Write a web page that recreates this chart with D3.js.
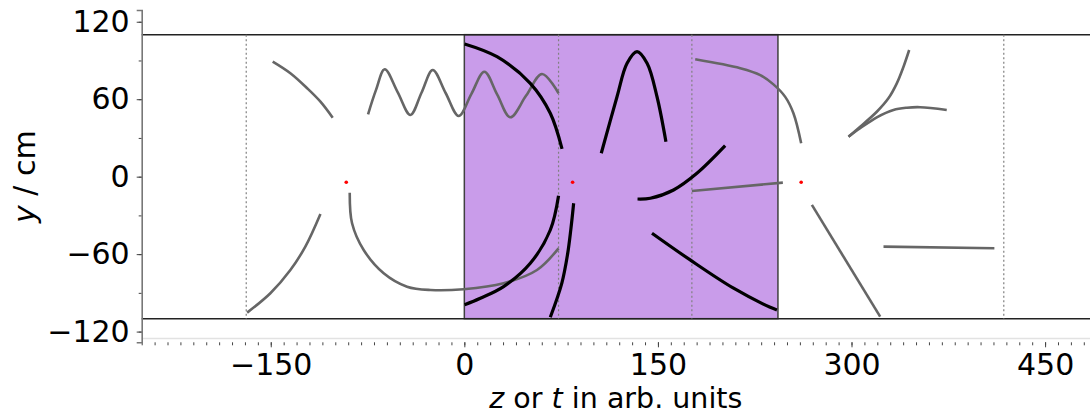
<!DOCTYPE html>
<html>
<head>
<meta charset="utf-8">
<script src="https://cdn.jsdelivr.net/npm/d3@7"></script>
<style>
  html, body { margin: 0; padding: 0; background: #fff; }
  svg { display: block; font-family: "DejaVu Sans", sans-serif; }
</style>
</head>
<body>
<svg id="chart" width="1090" height="415"></svg>
<script>
// Tick labels
const xMajorTicks = [-150, 0, 150, 300, 450];
const yMajorTicks = [-120, -60, 0, 60, 120];

// Detector band (z range) and guide lines
const bandZ = [0, 243];
const bandY = [-110, 110];
const wallY = [-110, 110];
const guideZ = [-169, 73, 176.3, 418];

// Interaction points
const foci = [[-91.5, -4.3], [83.9, -4.3], [261, -4.3]];

// Grey tracks, [z, y]
const grayTracks = [
  [[-148.5, 89.1], [-134.8, 80.1], [-121.8, 68.5], [-111.5, 58.1], [-102, 45.7]],
  [[-168.3, -105.3], [-150.3, -90.3], [-134.8, -72.3], [-123.2, -54.2], [-111.5, -28.9]],
  [[-74.6, 48.3], [-68.5, 67], [-61.7, 83.2], [-51.7, 65.5], [-41.8, 47.8], [-33.1, 65.2],
   [-24.5, 82.6], [-14.5, 64.8], [-4.4, 47.0], [5.5, 64.2], [15.5, 81.3], [25.5, 63.6],
   [35.6, 46.0], [47.9, 62.8], [60.2, 79.5], [73.0, 64.6]],
  [[-88.8, -12.4], [-87, -36.1], [-78, -56.8], [-62.5, -74.8], [-44.4, -85.2], [-26.3, -87.8],
   [-0.5, -87.2], [30.4, -82.6], [56.3, -72.3], [73, -55.5]],
  [[178.9, 90.9], [213.8, 84], [229.3, 78.7], [239.5, 71.5], [248.5, 62], [255, 49.1], [261, 25.9]],
  [[176.3, -11.1], [246.8, -4.6]],
  [[269.3, -21.9], [322.2, -108.4]],
  [[324.8, -54.2], [410.7, -55.5]],
  [[297.7, 31], [306.7, 38.7], [319.6, 50.3], [328.6, 60.7], [335.1, 72.3], [340.3, 85.2], [344.7, 98.1]],
  [[297.7, 31], [306.7, 37.5], [319.6, 46], [332.5, 51.7], [342.9, 53.4], [353.2, 53.8], [373.8, 51.7]]
];

// Black tracks, [z, y]
const blackTracks = [
  [[0.2, 102.8], [25.3, 92.9], [51.1, 72.3], [66.6, 49.1], [75.7, 21.5]],
  [[73, -14.7], [66.6, -41.3], [51.1, -67.1], [30.4, -85.2], [12.4, -94.2], [0.2, -99.2]],
  [[84.7, -20.6], [82.5, -41], [80, -60], [75.5, -82.6], [66.6, -108.9]],
  [[106.1, 18.1], [118.3, 61.9], [126.1, 87.8], [133.8, 96.8], [141.6, 87.8], [149.3, 61.9], [156.2, 27.1]],
  [[134.2, -17.3], [144.1, -16.7], [162.1, -10.3], [180.2, 2.6], [202.1, 24]],
  [[145.4, -43.8], [175, -64.5], [208.6, -86.4], [237, -101.2], [242.2, -103.2]]
];

const svg = d3.select("#chart");
const plotLeft = 141.7, plotRight = 1090, plotTop = 10, plotBottom = 342.3;

const x = d3.scaleLinear().domain([-250, 484.8]).range([plotLeft, plotRight]);
const y = d3.scaleLinear().domain([-128.3, 129.1]).range([plotBottom, plotTop]);

// Detector band
svg.append("rect")
  .attr("x", x(bandZ[0])).attr("y", y(bandY[1]))
  .attr("width", x(bandZ[1]) - x(bandZ[0]))
  .attr("height", y(bandY[0]) - y(bandY[1]))
  .attr("fill", "#c99cea")
  .attr("stroke", "#404040").attr("stroke-width", 1.5);

// Walls
svg.selectAll("line.wall").data(wallY).join("line")
  .attr("class", "wall")
  .attr("x1", plotLeft).attr("x2", plotRight)
  .attr("y1", d => y(d)).attr("y2", d => y(d))
  .attr("stroke", "#222").attr("stroke-width", 1.5);

// Guide lines
svg.selectAll("line.guide").data(guideZ).join("line")
  .attr("class", "guide")
  .attr("x1", d => x(d)).attr("x2", d => x(d))
  .attr("y1", y(wallY[1])).attr("y2", y(wallY[0]))
  .attr("stroke", "#808080").attr("stroke-width", 1.2)
  .attr("stroke-dasharray", "2,2.5");

const line = d3.line()
  .x(d => x(d[0])).y(d => y(d[1]))
  .curve(d3.curveCatmullRom.alpha(0.5));

svg.selectAll("path.gray").data(grayTracks).join("path")
  .attr("class", "gray")
  .attr("d", line)
  .attr("fill", "none").attr("stroke", "#666")
  .attr("stroke-width", 2.6).attr("stroke-linecap", "butt");

svg.selectAll("path.black").data(blackTracks).join("path")
  .attr("class", "black")
  .attr("d", line)
  .attr("fill", "none").attr("stroke", "#000")
  .attr("stroke-width", 3.2).attr("stroke-linecap", "butt");

svg.selectAll("circle.focus").data(foci).join("circle")
  .attr("class", "focus")
  .attr("cx", d => x(d[0])).attr("cy", d => y(d[1]))
  .attr("r", 1.8).attr("fill", "red");

// Faint frame line under the plot
svg.append("line")
  .attr("x1", plotLeft).attr("x2", plotRight)
  .attr("y1", 338.5).attr("y2", 338.5)
  .attr("stroke", "#e2e2e2").attr("stroke-width", 1.5);

// Axes
const fontSize = 30;
const xMinor = d3.range(-250, 481, 10);
const yMinor = d3.range(-120, 121, 30);

const gxMinor = svg.append("g").attr("transform", `translate(0,${plotBottom})`)
  .call(d3.axisBottom(x).tickValues(xMinor).tickSize(3).tickFormat(""));
const gx = svg.append("g").attr("transform", `translate(0,${plotBottom})`)
  .call(d3.axisBottom(x).tickValues(xMajorTicks).tickSize(5).tickPadding(6));
const gyMinor = svg.append("g").attr("transform", `translate(${plotLeft},0)`)
  .call(d3.axisLeft(y).tickValues(yMinor).tickSize(3).tickFormat(""));
const gy = svg.append("g").attr("transform", `translate(${plotLeft},0)`)
  .call(d3.axisLeft(y).tickValues(yMajorTicks).tickSize(5).tickPadding(7));

[gxMinor, gx].forEach(g => g.select(".domain").remove());
gyMinor.select(".domain").remove();
gy.select(".domain").attr("stroke", "#777").attr("stroke-width", 1.6);
[gxMinor, gx, gyMinor, gy].forEach(g => g.selectAll(".tick line").attr("stroke", "#444").attr("stroke-width", 1));
[gx, gy].forEach(g => g.selectAll(".tick text")
  .attr("font-family", "DejaVu Sans").attr("font-size", fontSize).attr("fill", "#000"));

// Axis titles
const xt = svg.append("text")
  .attr("x", (plotLeft + plotRight) / 2).attr("y", 408.3)
  .attr("text-anchor", "middle")
  .attr("font-size", 28.5).attr("fill", "#000");
xt.append("tspan").attr("font-style", "italic").text("z");
xt.append("tspan").text(" or ");
xt.append("tspan").attr("font-style", "italic").text("t");
xt.append("tspan").text(" in arb. units");

const yt = svg.append("text")
  .attr("transform", `translate(35,${(y(120) + y(-120)) / 2}) rotate(-90)`)
  .attr("text-anchor", "middle")
  .attr("font-size", fontSize).attr("fill", "#000");
yt.append("tspan").attr("font-style", "italic").text("y");
yt.append("tspan").text(" / cm");
</script>
</body>
</html>
